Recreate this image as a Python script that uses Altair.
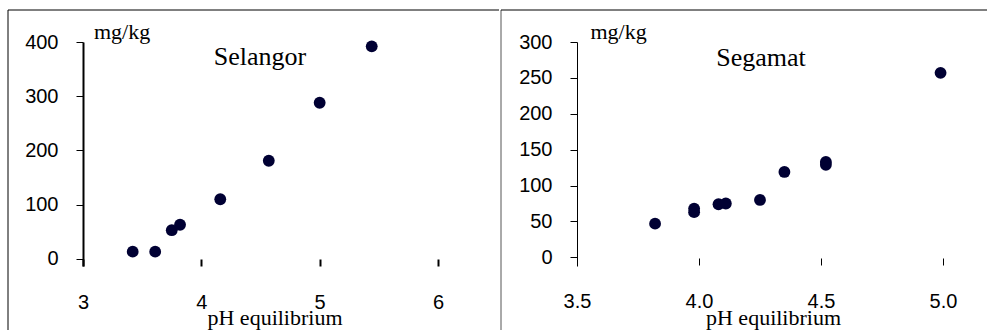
import altair as alt
import pandas as pd

# Selangor panel
sel_ph = [3.42, 3.61, 3.75, 3.82, 4.16, 4.57, 5.00, 5.44]
sel_mg = [13.5, 13.5, 53, 63, 110, 181, 288, 392]

# Segamat panel
seg_ph = [3.82, 3.98, 3.98, 4.08, 4.11, 4.25, 4.35, 4.52, 4.52, 4.99]
seg_mg = [47, 63, 68, 74, 75, 80, 119, 129, 133, 257]

sel_xticks = [3, 4, 5, 6]
sel_yticks = [0, 100, 200, 300, 400]
seg_xticks = [3.5, 4.0, 4.5, 5.0]
seg_yticks = [0, 50, 100, 150, 200, 250, 300]

regions = ["Selangor", "Segamat"]

SANS = "Liberation Sans"
SERIF = "Liberation Serif"
DOT = "#000033"

one = alt.Data(values=[{"k": 1}])


def panel(ph, mg, xdom, ydom, xticks, yticks, xfmt, w, h, name,
          xoff, lw, xtitle_x, xtitle_y, ytitle_x, label_x, label_y,
          frame_left, frame_right, frame_color):
    df = pd.DataFrame({"ph": ph, "mg": mg})
    pts = alt.Chart(df).mark_circle(size=140, color=DOT, opacity=1).encode(
        x=alt.X("ph:Q",
                scale=alt.Scale(domain=xdom, nice=False, zero=False),
                axis=alt.Axis(values=xticks, format=xfmt, domain=False, grid=False,
                              ticks=True, tickSize=7, tickWidth=lw, tickColor="black",
                              labelFont=SANS, labelFontSize=20, labelColor="black",
                              labelPadding=26, labelFlush=False, labelOverlap=False,
                              offset=xoff,
                              title="pH equilibrium", titleFont=SERIF, titleFontSize=22,
                              titleFontWeight="normal", titleColor="black",
                              titleX=xtitle_x, titleY=xtitle_y, titleAlign="center",
                              titleBaseline="alphabetic")),
        y=alt.Y("mg:Q",
                scale=alt.Scale(domain=ydom, nice=False, zero=False),
                axis=alt.Axis(values=yticks, domain=True, domainColor="black",
                              domainWidth=lw, grid=False, tickSize=7, tickWidth=1,
                              tickColor="black", labelFont=SANS, labelFontSize=20,
                              labelColor="black", labelPadding=18, labelFlush=False,
                              labelOverlap=False,
                              title="mg/kg", titleFont=SERIF, titleFontSize=22,
                              titleFontWeight="normal", titleColor="black",
                              titleAngle=0, titleX=ytitle_x, titleY=-3.5,
                              titleAlign="left", titleBaseline="alphabetic")),
    )
    label = alt.Chart(one).mark_text(text=name, font=SERIF, fontSize=26,
                                     color="black", baseline="alphabetic",
                                     align="center").encode(
        x=alt.value(label_x), y=alt.value(label_y))
    vrule = alt.Chart(one).mark_rule(color=frame_color, strokeWidth=1).encode(
        x=alt.value(frame_left), y=alt.value(-32), y2=alt.value(288))
    hrule = alt.Chart(one).mark_rule(color="black", strokeWidth=1).encode(
        x=alt.value(frame_left), x2=alt.value(frame_right), y=alt.value(-32))
    return alt.layer(vrule, hrule, pts, label).properties(width=w, height=h)


left = panel(sel_ph, sel_mg, [3, 6], [-13, 400], sel_xticks, sel_yticks, "d",
             355, 224, regions[0], -7, 2, 191.5, 65.5, 10.5, 177, 22.5,
             -75, 416, "black")
right = panel(seg_ph, seg_mg, [3.5, 5.0], [-12, 300], seg_xticks, seg_yticks, ".1f",
              366, 224, regions[1], -8, 1, 196, 66.5, 13, 184, 23.5,
              -76, 410, "#555555")

chart = alt.hconcat(left, right, spacing=0).properties(
    padding={"left": 7, "top": 9, "right": 0, "bottom": 0},
    background="white",
).configure_view(stroke=None)

chart.save("out.html", embed_options={"renderer": "svg", "actions": False})
